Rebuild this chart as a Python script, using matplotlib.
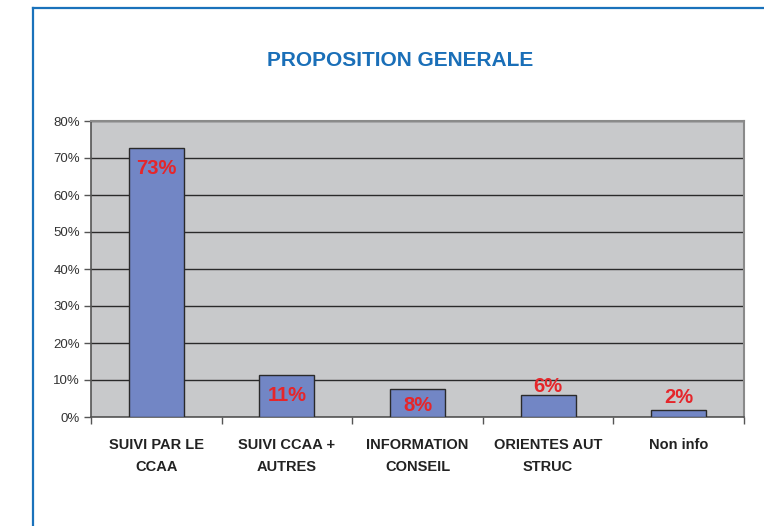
import numpy as np
import matplotlib
matplotlib.use("Agg")
import matplotlib.pyplot as plt
from matplotlib.lines import Line2D

# chart data
categories = ["SUIVI PAR LE\nCCAA", "SUIVI CCAA +\nAUTRES", "INFORMATION\nCONSEIL",
              "ORIENTES AUT\nSTRUC", "Non info"]
values = [72.7, 11.4, 7.6, 5.9, 2.0]  # percent
yticks = [0, 10, 20, 30, 40, 50, 60, 70, 80]
# label vertical offset (pixels) relative to bar top, as placed in the original
label_off = [-20, -21, -17, 9, 12]

plt.rcParams['font.family'] = ['Liberation Sans', 'DejaVu Sans']
W, H = 764, 526
fig = plt.figure(figsize=(W/100, H/100), dpi=100)
fig.patch.set_facecolor("white")

# blue frame (left + top edges visible)
fig.add_artist(Line2D([32.5/W, 32.5/W], [0, 1-7.5/H], color="#1a72bb", lw=1.6,
                      transform=fig.transFigure))
fig.add_artist(Line2D([32.5/W, 1], [1-7.5/H, 1-7.5/H], color="#1a72bb", lw=1.6,
                      transform=fig.transFigure))

ax = fig.add_axes([91/W, 1-417/H, (744-91)/W, (417-121)/H])
ax.set_facecolor("#c8c9cb")
x = np.arange(len(values))
ax.set_axisbelow(True)
ax.yaxis.grid(True, color="#2a2a2a", lw=1.0)
ax.bar(x, values, width=0.42, color="#7286c5", edgecolor="#2a2a2a", lw=1.0, zorder=3)

ax.set_xlim(-0.5, len(values)-0.5)
ax.set_ylim(0, 80)
ax.set_yticks(yticks)
ax.set_yticklabels([f"{v}%" for v in yticks], fontsize=9.5, color="#333333")
ax.tick_params(axis="y", direction="out", length=5, width=1, color="#555555", pad=3)

ax.set_xticks(np.arange(len(values)+1) - 0.5)
ax.set_xticklabels([])
ax.tick_params(axis="x", which="major", direction="out", length=5, width=1, color="#555555")
ax.set_xticks(x, minor=True)
ax.set_xticklabels(categories, minor=True, fontsize=10.5, fontweight="bold",
                   color="#222222", linespacing=1.7)
ax.tick_params(axis="x", which="minor", length=0, pad=15)

for side in ["left", "bottom"]:
    ax.spines[side].set_color("#555555")
    ax.spines[side].set_linewidth(1.2)
for side in ["top", "right"]:
    ax.spines[side].set_color("#8a8a8a")
    ax.spines[side].set_linewidth(1.5)

for xi, v, off in zip(x, values, label_off):
    ax.annotate(f"{round(v)}%", (xi, v), xytext=(0, off*0.72), textcoords="offset points",
                ha="center", va="center", fontsize=14.5, fontweight="bold",
                color="#e5262b", zorder=4)

fig.text(400/W, 1-60/H, "PROPOSITION GENERALE", ha="center", va="center",
         fontsize=15, fontweight="bold", color="#1a6fb8")

fig.savefig("out.png", dpi=100)
